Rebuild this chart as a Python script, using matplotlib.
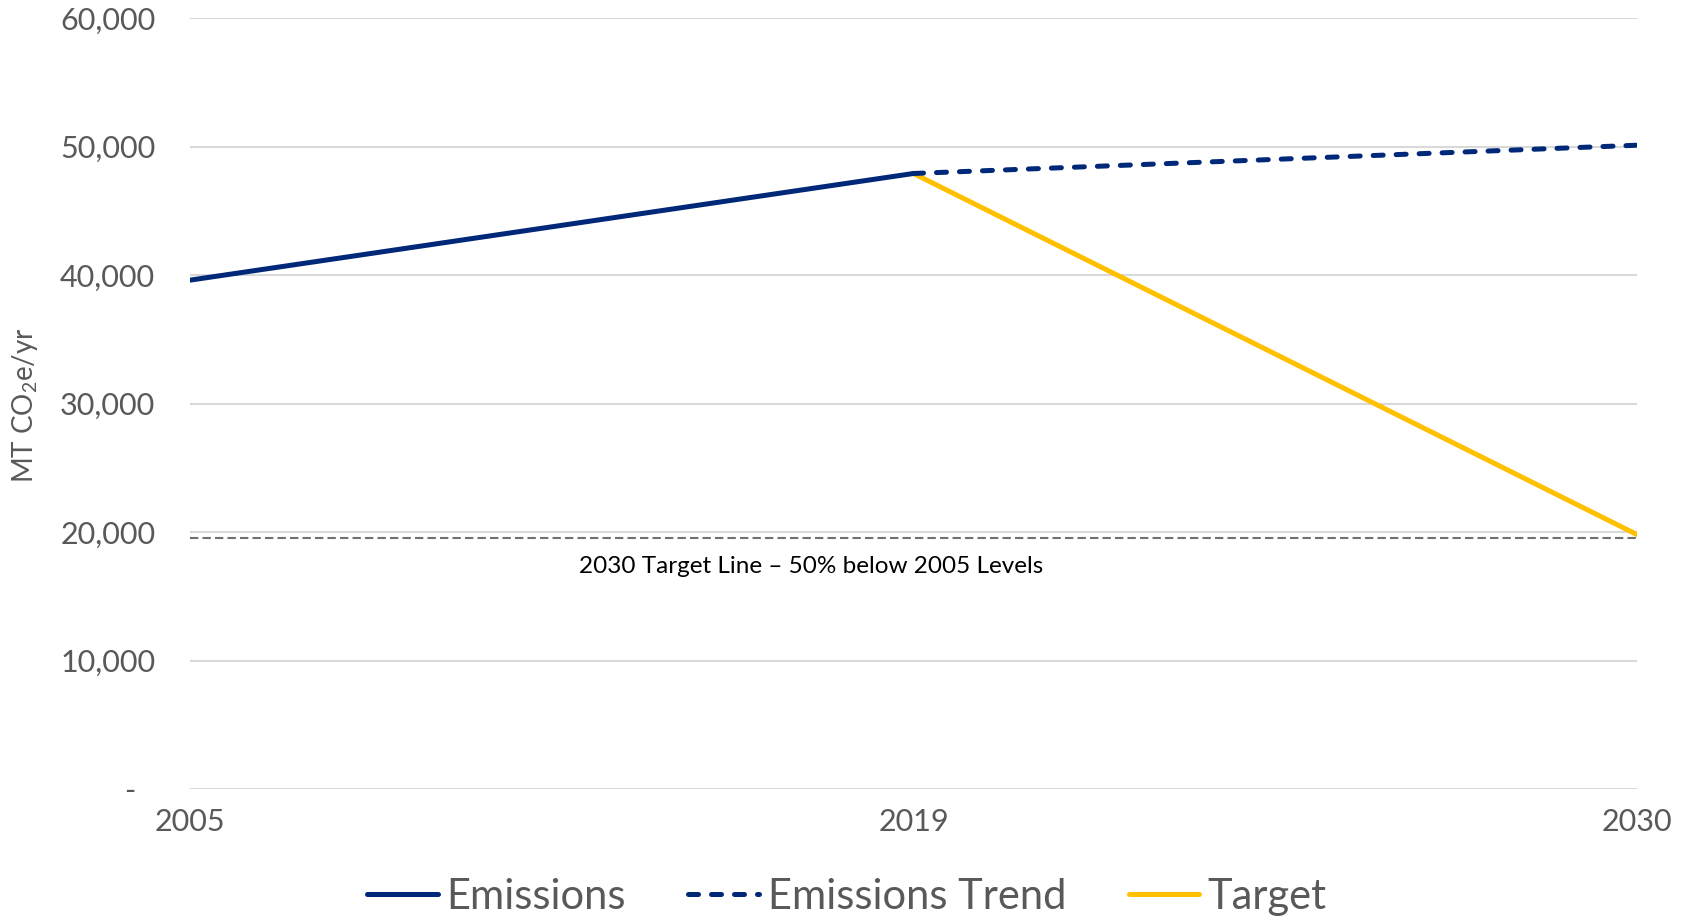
import matplotlib.pyplot as plt
from matplotlib.ticker import FuncFormatter
from matplotlib.transforms import ScaledTranslation

plt.rcParams['font.family'] = ['Lato', 'DejaVu Sans']
plt.rcParams['mathtext.fontset'] = 'custom'
plt.rcParams['mathtext.rm'] = 'Lato'
plt.rcParams['mathtext.it'] = 'Lato:italic'

years = ['2005', '2019', '2030']
emissions = [39600, 47900]          # 2005, 2019 actuals
emissions_trend = [47900, 50100]    # 2019 -> 2030 business as usual
target = [47900, 19800]             # 2019 -> 2030 target path
target_line = 19550
target_label = '2030 Target Line \u2013 50% below 2005 Levels'

navy = '#002878'
gold = '#FFC000'
grey = '#595959'

fig = plt.figure(figsize=(16.94, 9.23), dpi=100)
ax = fig.add_axes([190 / 1694, 1 - 789 / 923, (1637 - 190) / 1694, (789 - 18) / 923])

x = list(range(len(years)))
ax.plot(x[:2], emissions, color=navy, lw=3.6, solid_capstyle='round', label='Emissions', zorder=3)
ax.plot(x[1:], emissions_trend, color=navy, lw=3.6, ls=(0, (2, 2.6)), dash_capstyle='round',
        label='Emissions Trend', zorder=3)
ax.plot(x[1:], target, color=gold, lw=3.6, solid_capstyle='round', label='Target', zorder=2)

ax.axhline(target_line, color='#707070', lw=1.5, ls=(0, (4, 2)), zorder=1)
ax.text(0.537, target_line - 2250, target_label, fontsize=17.5, color='black', va='center', ha='left')

ax.set_xlim(0, 2)
ax.set_ylim(0, 60000)
ax.set_xticks(x)
ax.set_xticklabels(years)
ax.set_yticks(range(0, 60001, 10000))
ax.yaxis.set_major_formatter(FuncFormatter(lambda v, p: '-' if v == 0 else f'{v:,.0f}'))
ax.tick_params(axis='y', length=0, pad=25, labelsize=22, labelcolor=grey)
ax.tick_params(axis='x', length=0, pad=14, labelsize=22, labelcolor=grey)

# accounting-style dash for zero sits left of the digit column
fig.canvas.draw()
zero_lbl = ax.get_yticklabels()[0]
zero_lbl.set_transform(zero_lbl.get_transform() + ScaledTranslation(-0.2, 0, fig.dpi_scale_trans))

ax.grid(axis='y', color='#D9D9D9', lw=1.5)
ax.set_axisbelow(True)
for s in ax.spines.values():
    s.set_visible(False)
fig.text(25 / 1694, 1 - 405 / 923, r'MT CO$_2$e/yr', fontsize=20, color=grey,
         rotation=90, ha='center', va='center')

fig.legend(loc='center', bbox_to_anchor=(0.5, 1 - 897 / 923), ncol=3, frameon=False,
           fontsize=30, labelcolor=grey, handlelength=1.7, handletextpad=0.2, columnspacing=1.5)

fig.savefig('out.png', dpi=100)
